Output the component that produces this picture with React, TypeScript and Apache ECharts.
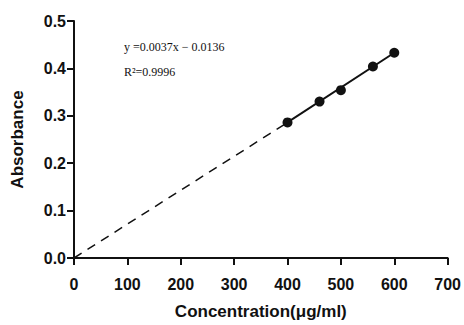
import React, { useEffect, useRef } from "react";
import * as echarts from "echarts";

const concentrations = [400, 460, 500, 560, 600];
const absorbances = [0.286, 0.330, 0.354, 0.404, 0.433];
const fitLine = [[397, 0.284], [600, 0.433]];
const dashedExtension = [[0, 0], [400, 0.286]];
const yTicks = [0, 0.1, 0.2, 0.3, 0.4, 0.5];
const equationText = "y =0.0037x \u2212 0.0136";
const r2Text = "R\u00b2=0.9996";

export default function App() {
  const ref = useRef<HTMLDivElement>(null);
  useEffect(() => {
    if (!ref.current) return;
    const chart = echarts.init(ref.current, null, { renderer: "svg" });
    const font = "'Liberation Sans', Arial, sans-serif";
    chart.setOption({
      animation: false,
      backgroundColor: "#ffffff",
      grid: { left: 74, right: 16, top: 21, bottom: 67, containLabel: false },
      xAxis: {
        type: "value",
        min: 0,
        max: 700,
        interval: 100,
        name: "Concentration(\u03bcg/ml)",
        nameLocation: "middle",
        nameGap: 45,
        nameTextStyle: { fontFamily: font, fontWeight: "bold", fontSize: 17, color: "#111" },
        axisLine: { show: true, lineStyle: { color: "#111", width: 2 } },
        axisTick: { show: true, length: 7, lineStyle: { color: "#111", width: 2 } },
        axisLabel: { fontFamily: font, fontWeight: "bold", fontSize: 16, color: "#111", margin: 18 },
        splitLine: { show: false },
      },
      yAxis: {
        type: "value",
        min: 0,
        max: 0.5,
        interval: 0.1,
        name: "Absorbance",
        nameLocation: "middle",
        nameGap: 48,
        nameTextStyle: { fontFamily: font, fontWeight: "bold", fontSize: 17, color: "#111" },
        axisLine: { show: true, lineStyle: { color: "#111", width: 2 } },
        axisTick: { show: true, length: 7, lineStyle: { color: "#111", width: 2 } },
        axisLabel: {
          fontFamily: font,
          fontWeight: "bold",
          fontSize: 16,
          color: "#111",
          margin: 8,
          formatter: (v: number) => (yTicks.some((t) => Math.abs(t - v) < 1e-9) ? v.toFixed(1) : ""),
        },
        splitLine: { show: false },
      },
      graphic: [
        {
          type: "text",
          left: 124,
          top: 41,
          style: { text: equationText, font: "12px 'Liberation Serif', 'Times New Roman', serif", fill: "#111" },
        },
        {
          type: "text",
          left: 124,
          top: 66,
          style: { text: r2Text, font: "12px 'Liberation Serif', 'Times New Roman', serif", fill: "#111" },
        },
      ],
      series: [
        {
          type: "line",
          data: dashedExtension,
          symbol: "none",
          lineStyle: { color: "#111", width: 1.5, type: [9, 7] },
          z: 1,
        },
        {
          type: "line",
          data: fitLine,
          symbol: "none",
          lineStyle: { color: "#111", width: 2 },
          z: 2,
        },
        {
          type: "scatter",
          data: concentrations.map((c, i) => [c, absorbances[i]]),
          symbol: "circle",
          symbolSize: 10,
          itemStyle: { color: "#111", opacity: 1 },
          z: 3,
        },
      ],
    });
    return () => chart.dispose();
  }, []);
  return (
    <div
      ref={ref}
      style={{ position: "fixed", left: 0, top: 0, width: 464, height: 325, background: "#fff" }}
    />
  );
}
